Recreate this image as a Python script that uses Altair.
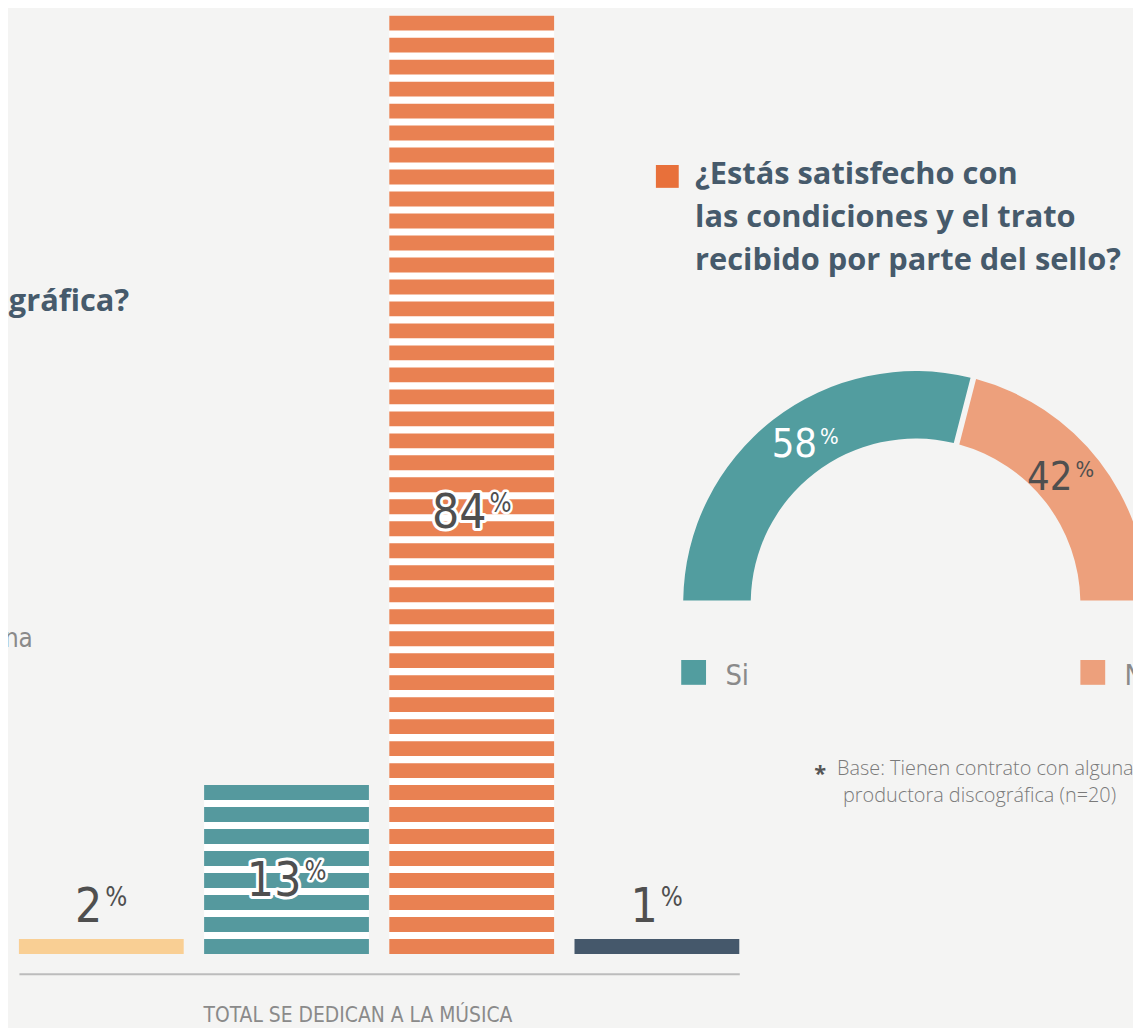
import math
import altair as alt
import pandas as pd

# ---------------- data ----------------
bar_groups = ["grupo 1", "grupo 2", "grupo 3", "grupo 4"]   # names are cropped out
bar_pct = [2, 13, 84, 1]
bar_stripes = [1, 8, 43, 1]           # number of horizontal stripes drawn per bar
bar_colors = ["#f9cf94", "#55999e", "#e98152", "#45586b"]

answers = ["Si", "No"]
answer_share = [58, 42]
answer_colors = ["#529d9f", "#eda07c"]

question = ["¿Estás satisfecho con", "las condiciones y el trato", "recibido por parte del sello?"]
left_question_tail = "discográfica?"
left_legend_tail = "una"
axis_title = "TOTAL SE DEDICAN A LA MÚSICA"
footnote = ["Base: Tienen contrato con alguna", "productora discográfica (n=20)"]

# ---------------- styling ----------------
W, H = 1133, 1020
BG = "#f4f4f3"
NARROW = "'DejaVu Sans Condensed', 'Liberation Sans Narrow', Roboto, sans-serif"
SANS = "'Open Sans', 'Noto Sans', sans-serif"
TITLE_C = "#465a6b"
NUM_C = "#4f4f4f"
SOFT_C = "#8a8a8a"
STRIPE = 15 / 22.14

rows = []
for g, n in zip(bar_groups, bar_stripes):
    for k in range(n):
        rows.append({"group": g, "k": k, "k2": k + STRIPE})
stripes_df = pd.DataFrame(rows)
bars_df = pd.DataFrame({"group": bar_groups, "pct": bar_pct, "n": bar_stripes})
bars_df["zero"] = 0
bars_df["top"] = bars_df["n"] - 1 + STRIPE

xscale = alt.Scale(domain=bar_groups, range=[11, 736.5], paddingInner=0.11, paddingOuter=0)
yscale = alt.Scale(domain=[0, max(bar_stripes)], range=[949, 949 - max(bar_stripes) * 22.14],
                   nice=False, zero=False)
xaxis = alt.Axis(domain=True, domainColor="#bcbcbc", domainWidth=2, ticks=False, labels=False,
                 grid=False, offset=-51, title=axis_title, titleFont=NARROW, titleFontSize=21,
                 titleFontWeight="normal", titleColor=SOFT_C, titleX=352, titleY=48,
                 titleAlign="center", titleBaseline="alphabetic")
X = alt.X("group:N", scale=xscale, axis=xaxis)

backing = alt.Chart(bars_df).mark_rect(color="white").encode(
    x=X, y=alt.Y("zero:Q", scale=yscale, axis=None), y2="top:Q")
stripes = alt.Chart(stripes_df).mark_rect().encode(
    x=X, y=alt.Y("k:Q", scale=yscale, axis=None), y2="k2:Q",
    color=alt.Color("group:N", scale=alt.Scale(domain=bar_groups, range=bar_colors), legend=None))

NUM_FS, PC_FS, PC_DY = 48, 26, -16


def pct_labels(filter_expr, num_dx, halo):
    base = alt.Chart(bars_df).transform_calculate(
        ly="datum.n > 1 ? 0.478 * datum.n - 1.17 : datum.n + 0.445",
        num="toString(datum.pct)",
    ).transform_filter(filter_expr).encode(x=X, y=alt.Y("ly:Q", scale=yscale, axis=None))
    out = []
    if halo:
        out.append(base.mark_text(font=NARROW, fontSize=NUM_FS, align="right", baseline="alphabetic",
                                  dx=num_dx, fill="white", stroke="white", strokeWidth=6,
                                  strokeJoin="round").encode(text="num:N"))
        out.append(base.mark_text(font=NARROW, fontSize=PC_FS, align="left", baseline="alphabetic",
                                  dx=num_dx + 3, dy=PC_DY, fill="white", stroke="white",
                                  strokeWidth=5, strokeJoin="round").encode(text=alt.value("%")))
    out.append(base.mark_text(font=NARROW, fontSize=NUM_FS, align="right", baseline="alphabetic",
                              dx=num_dx, color=NUM_C).encode(text="num:N"))
    out.append(base.mark_text(font=NARROW, fontSize=PC_FS, align="left", baseline="alphabetic",
                              dx=num_dx + 3, dy=PC_DY, color=NUM_C).encode(text=alt.value("%")))
    return out


bar_group = alt.layer(
    backing, stripes,
    *pct_labels("datum.pct >= 10 && datum.n > 1", 15, True),
    *pct_labels("datum.pct >= 10 && datum.n <= 1", 15, False),
    *pct_labels("datum.pct < 10", 1, False),
)

# ---------------- half donut ----------------
arc_df = pd.DataFrame({"answer": answers, "share": answer_share, "idx": list(range(len(answers)))})
tscale = alt.Scale(domain=[0, 100], range=[-math.pi / 2, math.pi / 2])
theta = alt.Theta("share:Q", stack=True, scale=tscale)
acolor = alt.Color("answer:N", scale=alt.Scale(domain=answers, range=answer_colors), legend=None)
CX, CY = 914, 596

arc = alt.Chart(arc_df).mark_arc(outerRadius=234, innerRadius=166, padAngle=0.02).encode(
    theta=theta, color=acolor, order=alt.Order("idx:Q"), x=alt.value(CX), y=alt.value(CY))
lab_color = alt.condition("datum.idx == 0", alt.value("white"), alt.value(NUM_C))
# label anchor: middle of each slice, nudged slightly toward the split between the slices
lab_base = alt.Chart(arc_df).transform_window(
    cum="sum(share)", sort=[alt.SortField("idx")], frame=[None, 0]
).transform_calculate(
    mid="datum.cum - datum.share / 2 + (datum.idx == 0 ? 2 : -2)"
).encode(theta=alt.Theta("mid:Q", stack=None, scale=tscale), color=lab_color,
         x=alt.value(CX), y=alt.value(CY))
arc_num = lab_base.mark_text(radius=196, font=NARROW, fontSize=40, align="right",
                             baseline="alphabetic", dx=11, dy=15).encode(text="share:Q")
arc_pc = lab_base.mark_text(radius=196, font=NARROW, fontSize=22, align="left",
                            baseline="alphabetic", dx=14, dy=2).encode(text=alt.value("%"))

lx = alt.X("answer:N", scale=alt.Scale(type="point", domain=answers, range=[690.5, 1092.5],
                                       padding=0), axis=None)
leg_sq = alt.Chart(arc_df).mark_square(size=625, opacity=1).encode(
    x=lx, y=alt.value(665.5), color=acolor)
leg_tx = alt.Chart(arc_df).mark_text(font=NARROW, fontSize=29, align="left",
                                     baseline="alphabetic", dx=32, color=SOFT_C).encode(
    x=lx, y=alt.value(678), text="answer:N")

arc_group = alt.layer(arc, arc_num, arc_pc, leg_sq, leg_tx)

# ---------------- text decorations ----------------
one = pd.DataFrame({"t": [0]})
q_square = alt.Chart(one).mark_square(size=529, color="#e8703a", opacity=1).encode(
    x=alt.value(664), y=alt.value(166))
q_text = alt.Chart(one).mark_text(font=SANS, fontWeight="bold", fontSize=31, align="left",
                                  baseline="alphabetic", lineHeight=43, color=TITLE_C).encode(
    x=alt.value(692), y=alt.value(174), text=alt.value(question))
lq_text = alt.Chart(one).mark_text(font=SANS, fontWeight="bold", fontSize=31, align="right",
                                   baseline="alphabetic", color=TITLE_C).encode(
    x=alt.value(122), y=alt.value(302), text=alt.value(left_question_tail))
ll_text = alt.Chart(one).mark_text(font=NARROW, fontSize=26, align="right",
                                   baseline="alphabetic", color=SOFT_C).encode(
    x=alt.value(25), y=alt.value(640), text=alt.value(left_legend_tail))
star = alt.Chart(one).mark_text(font=SANS, fontWeight="bold", fontSize=22, align="left",
                                baseline="alphabetic", color="#555555").encode(
    x=alt.value(812), y=alt.value(775), text=alt.value("*"))
foot = alt.Chart(one).mark_text(font=SANS, fontWeight=300, fontSize=20, align="left",
                                baseline="alphabetic", color="#7a7a7a").encode(
    y=alt.value(769), text=alt.value(footnote[0]), x=alt.value(835))
foot2 = alt.Chart(one).mark_text(font=SANS, fontWeight=300, fontSize=20, align="left",
                                 baseline="alphabetic", color="#7a7a7a").encode(
    y=alt.value(796), text=alt.value(footnote[1]), x=alt.value(841))

deco_group = alt.layer(q_square, q_text, lq_text, ll_text, star, foot, foot2)

chart = alt.layer(bar_group, arc_group, deco_group).resolve_scale(
    x="independent", y="independent", color="independent"
).properties(
    width=W, height=H, background=BG, padding=0, autosize=alt.AutoSizeParams(type="none")
).configure_view(stroke=None)

chart.save("out.html", embed_options={"renderer": "svg", "actions": False})
